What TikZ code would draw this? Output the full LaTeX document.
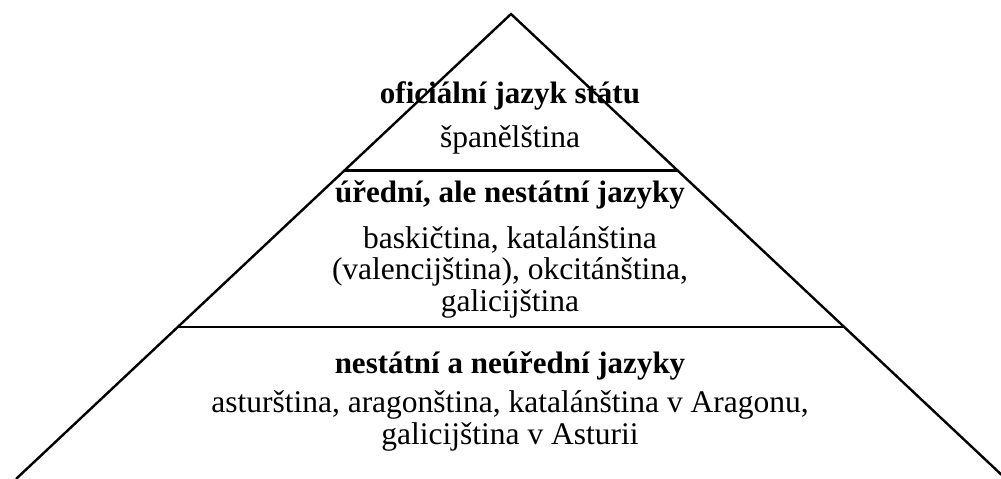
\documentclass[tikz,border=0pt]{standalone}
\usepackage{fontspec}
\setmainfont{Liberation Serif}
\usetikzlibrary{calc}
\begin{document}
\begin{tikzpicture}[x=1pt,y=-1pt,line width=2.4pt,
  level/.style={anchor=base,align=center,inner sep=0pt,font=\fontsize{31.5}{31.5}\selectfont},
  title/.style={level,font=\fontsize{31}{31.5}\selectfont\bfseries}]
\useasboundingbox (0,0) rectangle (1001,479);
\coordinate (apex) at (511,14);
\coordinate (bl) at (16,479);
\coordinate (br) at (1006,479);
\coordinate (l1) at ($(apex)!0.3366!(bl)$);
\coordinate (r1) at ($(apex)!0.3366!(br)$);
\coordinate (l2) at ($(apex)!0.673!(bl)$);
\coordinate (r2) at ($(apex)!0.673!(br)$);
\draw[line join=miter] (bl)--(apex)--(br);
\draw (l1)--(r1);
\draw (l2)--(r2);
% base anchor sits on the last line
\node[title] (t1) at (510,103) {oficiální jazyk státu};
\node[level] (d1) at (510,147) {španělština};
\node[title] (t2) at (510,202) {úřední, ale nestátní jazyky};
\node[level] (d2) at (510,311) {baskičtina, katalánština\\(valencijština), okcitánština,\\galicijština};
\node[title] (t3) at (510,373) {nestátní a neúřední jazyky};
\node[level] (d3) at (510,444) {asturština, aragonština, katalánština v Aragonu,\\galicijština v Asturii};
\end{tikzpicture}
\end{document}
